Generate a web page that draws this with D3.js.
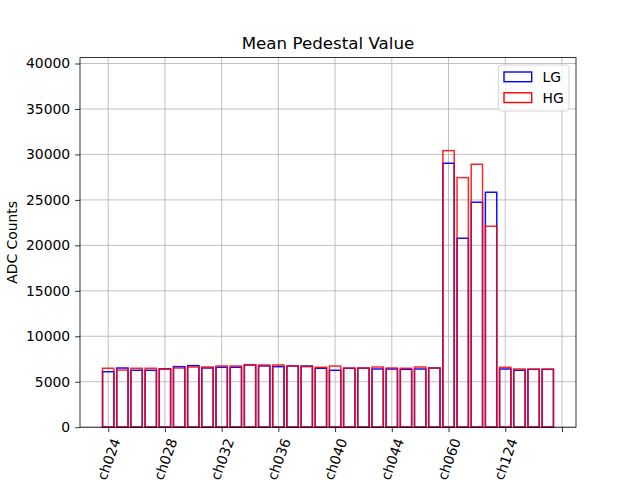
<!DOCTYPE html>
<html>
<head>
<meta charset="utf-8">
<script src="https://cdn.jsdelivr.net/npm/d3@7"></script>
<style>
  html, body { margin: 0; padding: 0; background: #fff; }
  svg { display: block; font-family: "DejaVu Sans", sans-serif; }
</style>
</head>
<body>
<svg id="chart" width="640" height="480"></svg>
<script>
// ---- data ----
const channels = [
  "ch024","ch025","ch026","ch027","ch028","ch029","ch030","ch031",
  "ch032","ch033","ch034","ch035","ch036","ch037","ch038","ch039",
  "ch040","ch041","ch042","ch043","ch044","ch045","ch046","ch047",
  "ch060","ch061","ch062","ch063","ch124","ch125","ch126","ch127"
];
const lgValues = [
  6100, 6510, 6260, 6260, 6420, 6660, 6770, 6510,
  6590, 6590, 6840, 6730, 6660, 6730, 6730, 6480,
  6260, 6480, 6500, 6400, 6400, 6370, 6400, 6510,
  29030, 20780, 24740, 25840, 6400, 6260, 6370, 6370
];
const hgValues = [
  6480, 6290, 6480, 6480, 6400, 6510, 6620, 6620,
  6730, 6730, 6880, 6840, 6840, 6730, 6660, 6590,
  6730, 6500, 6500, 6620, 6510, 6480, 6620, 6510,
  30420, 27450, 28920, 22100, 6590, 6400, 6370, 6370
];
const xTickPositions = [0, 4, 8, 12, 16, 20, 24, 28, 32];
const xTickLabels = ["ch024","ch028","ch032","ch036","ch040","ch044","ch060","ch124",""];
const yTicks = [0, 5000, 10000, 15000, 20000, 25000, 30000, 35000, 40000];
const seriesNames = ["LG", "HG"];
const seriesColors = ["blue", "red"];

// ---- layout ----
const svg = d3.select("#chart");
const L = 80, R = 576, T = 57.6, B = 427.2;
const barWidth = 0.8;
const x = d3.scaleLinear().domain([-1.99, 32.99]).range([L, R]);
const y = d3.scaleLinear().domain([0, 40650]).range([B, T]);

// grid
const grid = svg.append("g").attr("stroke", "#b0b0b0").attr("stroke-width", 0.8);
grid.selectAll("line.gx").data(xTickPositions).join("line")
  .attr("x1", d => x(d)).attr("x2", d => x(d)).attr("y1", T).attr("y2", B);
grid.selectAll("line.gy").data(yTicks).join("line")
  .attr("x1", L).attr("x2", R).attr("y1", d => y(d)).attr("y2", d => y(d));

// bars
const series = [lgValues, hgValues];
series.forEach((vals, si) => {
  svg.append("g")
    .attr("fill", "none")
    .attr("stroke", seriesColors[si])
    .attr("stroke-width", 1.5)
    .attr("stroke-opacity", si === 1 ? 0.85 : 0.95)
    .selectAll("rect").data(vals).join("rect")
    .attr("x", (d, i) => x(i - barWidth / 2))
    .attr("width", (d, i) => x(i + barWidth / 2) - x(i - barWidth / 2))
    .attr("y", d => y(d))
    .attr("height", d => B - y(d));
});

// axes
const xAxis = d3.axisBottom(x).tickValues(xTickPositions)
  .tickFormat((d, i) => xTickLabels[i]).tickSize(4.9).tickPadding(4.9);
const gx = svg.append("g").attr("transform", `translate(0,${B})`).call(xAxis);
gx.select(".domain").remove();
gx.selectAll(".tick line").attr("stroke", "#000").attr("stroke-width", 0.8);
gx.selectAll(".tick text").remove();
gx.selectAll(".tick").append("text")
  .attr("transform", "translate(0,32) rotate(-70)")
  .attr("text-anchor", "middle")
  .attr("dominant-baseline", "central")
  .attr("fill", "#000")
  .attr("font-size", 13.9)
  .attr("font-family", "DejaVu Sans")
  .text((d, i) => xTickLabels[i]);

const yAxis = d3.axisLeft(y).tickValues(yTicks).tickFormat(d3.format("d"))
  .tickSize(4.9).tickPadding(4.9);
const gy = svg.append("g").attr("transform", `translate(${L},0)`).call(yAxis);
gy.select(".domain").remove();
gy.selectAll(".tick line").attr("stroke", "#000").attr("stroke-width", 0.8);
gy.selectAll(".tick text").attr("font-size", 13.9).attr("font-family", "DejaVu Sans").attr("fill", "#000");

// spines
svg.append("rect").attr("x", L).attr("y", T).attr("width", R - L).attr("height", B - T)
  .attr("fill", "none").attr("stroke", "#000").attr("stroke-width", 0.8);

// title & labels
svg.append("text").attr("x", (L + R) / 2).attr("y", 49.3)
  .attr("text-anchor", "middle").attr("font-size", 16.7).text("Mean Pedestal Value");
svg.append("text").attr("transform", `translate(17,${(T + B) / 2}) rotate(-90)`)
  .attr("text-anchor", "middle").attr("font-size", 13.9).text("ADC Counts");

// legend
const lg = svg.append("g");
lg.append("rect").attr("x", 498.5).attr("y", 65).attr("width", 70.5).attr("height", 46)
  .attr("rx", 2.8).attr("fill", "#fff").attr("fill-opacity", 0.8)
  .attr("stroke", "#cccccc").attr("stroke-width", 0.8);
seriesNames.forEach((name, i) => {
  const yy = 72 + i * 20.8;
  lg.append("rect").attr("x", 504).attr("y", yy).attr("width", 27.7).attr("height", 9.7)
    .attr("fill", "none").attr("stroke", seriesColors[i]).attr("stroke-width", 1.4);
  lg.append("text").attr("x", 542.5).attr("y", yy + 9.8).attr("font-size", 13.9).text(name);
});
</script>
</body>
</html>
